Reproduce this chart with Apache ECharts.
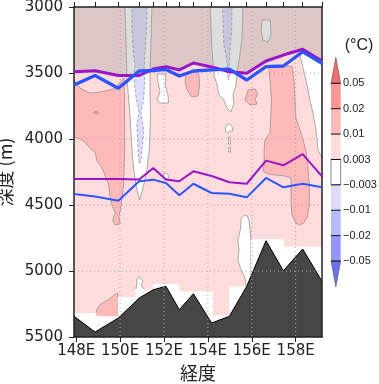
<!DOCTYPE html>
<html><head><meta charset="utf-8">
<script src="https://cdn.jsdelivr.net/npm/echarts@6/dist/echarts.min.js"></script>
<style>html,body{margin:0;padding:0;background:#fff}#c{width:379px;height:384px}</style>
</head><body><div id="c"></div>
<script>
// ---------- data ----------
const stationLon  = [147.9, 148.86, 149.92, 150.87, 151.51, 152.09, 152.70, 153.34, 154.17, 154.98, 155.77, 156.65, 157.44, 158.32, 159.2];
const topoDepth   = [5343, 5462, 5356, 5205, 5142, 5116, 5293, 5172, 5394, 5343, 5116, 4770, 4998, 4833, 5078];
const purpleUpper = [3490, 3483, 3519, 3519, 3470, 3452, 3477, 3424, 3455, 3490, 3502, 3409, 3364, 3320, 3409];
const blueUpper   = [3591, 3519, 3616, 3485, 3481, 3473, 3523, 3485, 3477, 3470, 3553, 3452, 3447, 3339, 3426];
const purpleLower = [4303, 4303, 4303, 4307, 4220, 4307, 4320, 4245, 4280, 4328, 4339, 4164, 4199, 4114, 4283];
const blueLower   = [4417, 4436, 4467, 4320, 4308, 4333, 4426, 4339, 4409, 4415, 4442, 4295, 4366, 4339, 4366];

const xTicks = [148, 150, 152, 154, 156, 158];
const gridLon = [150, 152, 154, 156, 158];
const gridDep = [3500, 4000, 4500, 5000];

const levels = [-0.05, -0.02, -0.01, -0.003, 0.003, 0.01, 0.02, 0.05];
const levelColors = ['#6e6ef0','#9696ff','#b9b9ff','#dcdcff','#ffffff','#ffdcdc','#ffb9b9','#ff9696','#f06e6e'];

// no-data cells (below these depths, per longitude band)
const maskLon0 = [147.9, 148.90, 149.89, 150.69, 151.50, 152.67, 154.19, 154.98, 155.96, 157.44];
const maskLon1 = [148.90, 149.89, 150.69, 151.50, 152.67, 154.19, 154.98, 155.96, 157.44, 159.2];
const maskTop  = [5318, 5343, 5197, 5136, 5099, 5154, 5336, 5116, 4760, 4816];

// contour regions of the temperature difference field (lon, depth, value)
const baseLon = [147.9, 159.2, 159.2, 147.9];
const baseDep = [3000, 3000, 5500, 5500];
const pinkLeftLon = [147.90,148.17,148.63,149.08,149.54,149.81,150.00,150.18,150.20,150.21,150.16,150.09,150.01,149.94,150.01,149.75,149.66,149.78,149.63,149.55,149.48,149.33,149.18,148.95,148.87,148.54,148.34,148.08,147.90];
const pinkLeftDep = [3553,3614,3652,3644,3629,3614,3568,3538,3705,4083,4348,4447,4545,4583,4644,4650,4612,4561,4498,4447,4346,4283,4220,4167,4106,4053,4015,3992,3992];
const dotLon = [148.79,148.90,149.01,148.90];
const dotDep = [3799,3788,3799,3811];
const whiteCenterLon = [150.22,151.45,151.41,151.36,151.38,151.33,151.23,151.08,150.89,150.72,150.62,150.54,150.46,150.31,150.27];
const whiteCenterDep = [3000,3000,3250,3523,3856,4083,4220,4348,4462,4348,4220,4083,3841,3530,3250];
const blueCenterLon = [150.54,151.23,151.20,151.13,151.09,151.12,151.07,150.95,151.02,151.08,151.00,150.95,150.89,150.83,150.80,150.76,150.86,150.75,150.68,150.63,150.68,150.59,150.54];
const blueCenterDep = [3000,3000,3174,3364,3477,3553,3705,3795,3871,3947,4083,4159,4189,4121,4008,3886,3795,3705,3629,3538,3439,3326,3174];
const whiteSpikeLon = [151.68,152.09,152.05,152.18,152.21,151.82,151.68,151.82,151.73];
const whiteSpikeDep = [3508,3508,3591,3667,3727,3727,3705,3644,3568];
const pinkBlob1Lon = [153.00,153.41,153.59,153.62,153.55,153.28,153.05,152.96];
const pinkBlob1Dep = [3508,3492,3508,3591,3674,3682,3629,3568];
const whiteCol2Lon = [154.10,155.60,155.55,155.42,155.33,155.28,155.14,155.19,155.05,154.87,154.73,154.51,154.42,154.28,154.19,154.14];
const whiteCol2Dep = [3000,3000,3250,3402,3492,3591,3667,3727,3795,3765,3705,3667,3591,3515,3326,3136];
const blueCol2Lon = [154.67,155.10,155.08,155.01,154.98,154.98,154.94,154.90,154.87,154.73,154.69];
const blueCol2Dep = [3000,3000,3174,3326,3402,3515,3553,3515,3402,3288,3136];
const whiteTopLon = [156.47,156.84,156.88,156.74,156.51,156.42];
const whiteTopDep = [3098,3098,3212,3265,3250,3174];
const whiteRightLon = [158.29,159.20,159.20,159.02,158.93,158.79,158.65,158.52,158.34,158.20];
const whiteRightDep = [3341,3417,4144,4083,3932,3803,3705,3591,3462,3371];
const pinkBlob2Lon = [155.83,156.15,156.28,156.15,156.24,155.92,155.69];
const pinkBlob2Dep = [3629,3621,3659,3697,3735,3742,3705];
const pinkRightLon = [156.78,157.83,157.92,157.97,158.01,158.32,158.47,158.55,158.62,158.62,158.52,158.34,158.16,158.01,157.83,157.79,157.79,157.51,157.06,156.74,156.51,156.56,156.56,156.60,156.83,156.90,156.83,156.78];
const pinkRightDep = [3447,3447,3553,3705,3841,3992,4091,4197,4348,4500,4598,4640,4650,4636,4576,4462,4295,4280,4273,4265,4242,4197,4083,4008,3955,3705,3553,3477];
const whiteBirdLon = [154.82,154.96,155.10,155.14,155.01,154.91,154.80];
const whiteBirdDep = [3901,3886,3901,3939,3939,3955,3939];
const whiteDotALon = [154.94,155.01,155.03,154.94];
const whiteDotADep = [3985,3985,4038,4038];
const whiteDotBLon = [154.95,155.03,155.03,154.95];
const whiteDotBDep = [4064,4064,4098,4098];
const whiteDotCLon = [152.00,152.18,152.21,152.05,151.98];
const whiteDotCDep = [4258,4265,4295,4308,4288];
const whiteLowLon = [155.60,155.78,155.87,155.92,155.96,155.96,155.74,155.69,155.51,155.37,155.42,155.37,155.46,155.51,155.51];
const whiteLowDep = [4583,4580,4614,4689,4765,5144,5114,5053,4992,4917,4841,4765,4705,4644,4606];
const whiteFlameLon = [150.85,151.04,150.95,151.09,151.09,150.72,150.72,150.77,150.75];
const whiteFlameDep = [5045,5076,5106,5136,5220,5220,5136,5091,5068];
const pinkBottomLon = [148.90,149.89,149.89,149.72,149.54,149.27,149.08,148.95,148.90];
const pinkBottomDep = [5371,5371,5167,5182,5212,5235,5258,5288,5318];

const regions = [
  [0.006, baseLon, baseDep],
  [0.015, pinkLeftLon, pinkLeftDep],
  [0.03, dotLon, dotDep],
  [0, whiteCenterLon, whiteCenterDep],
  [-0.006, blueCenterLon, blueCenterDep],
  [0, whiteSpikeLon, whiteSpikeDep],
  [0.015, pinkBlob1Lon, pinkBlob1Dep],
  [0, whiteCol2Lon, whiteCol2Dep],
  [-0.006, blueCol2Lon, blueCol2Dep],
  [0, whiteTopLon, whiteTopDep],
  [0, whiteRightLon, whiteRightDep],
  [0.015, pinkBlob2Lon, pinkBlob2Dep],
  [0.015, pinkRightLon, pinkRightDep],
  [0, whiteBirdLon, whiteBirdDep],
  [0, whiteDotALon, whiteDotADep],
  [0, whiteDotBLon, whiteDotBDep],
  [0, whiteDotCLon, whiteDotCDep],
  [0, whiteLowLon, whiteLowDep],
  [0, whiteFlameLon, whiteFlameDep],
  [0.015, pinkBottomLon, pinkBottomDep]
];

// ---------- chart ----------
function colorOf(v){ let i=0; while(i<levels.length && v>=levels[i]) i++; return levelColors[i]; }
const XMIN = stationLon[0], XMAX = stationLon[stationLon.length-1];
const YMIN = 3000, YMAX = 5500;
const axisColor = '#222';
const lineOf = arr => stationLon.map((lo,i)=>[lo, arr[i]]);

const chart = echarts.init(document.getElementById('c'));

// colorbar (legend) graphics
const cbLeft=331, cbW=9.7, cbTopY=83.3, cbStep=25.39, triH=26;
const cbBot = cbTopY + 7*cbStep;
const graphics = [];
for (let j=0;j<7;j++){
  const col = levelColors[7-j];
  graphics.push({type:'rect', z:100, shape:{x:cbLeft,y:cbTopY+j*cbStep,width:cbW,height:cbStep},
    style:{fill:col, stroke: col==='#ffffff' ? '#888' : null, lineWidth:1}});
}
graphics.push({type:'polygon', z:100, shape:{points:[[cbLeft,cbTopY],[cbLeft+cbW,cbTopY],[cbLeft+cbW/2,cbTopY-triH]]}, style:{fill:levelColors[8], stroke:'#555', lineWidth:0.6}});
graphics.push({type:'polygon', z:100, shape:{points:[[cbLeft,cbBot],[cbLeft+cbW,cbBot],[cbLeft+cbW/2,cbBot+triH]]}, style:{fill:levelColors[0], stroke:'#555', lineWidth:0.6}});
for (let j=0;j<8;j++){
  const y = cbTopY + j*cbStep;
  graphics.push({type:'line', z:101, shape:{x1:cbLeft,y1:y,x2:cbLeft+cbW,y2:y}, style:{stroke:'#111', lineWidth:1}});
  graphics.push({type:'text', z:101, style:{x:cbLeft+12, y:y, text:String(levels[7-j]).replace('-','\u2212'),
    font:'11px "Liberation Sans", Arial, sans-serif', fill:'#222', verticalAlign:'middle', align:'left'}});
}
graphics.push({type:'text', z:101, style:{x:359, y:46, text:'(\u00B0C)', font:'16px "Liberation Sans", Arial, sans-serif', fill:'#222', align:'center', verticalAlign:'middle'}});

const option = {
  animation:false,
  backgroundColor:'#fff',
  grid:{left:74, top:7, width:248, height:330, containLabel:false, outerBoundsMode:'none'},
  xAxis:[{
    type:'value', min:XMIN, max:XMAX, position:'bottom', z:5,
    axisLine:{show:true, lineStyle:{color:axisColor, width:1.5}},
    axisTick:{show:true, length:5, customValues:xTicks, lineStyle:{color:axisColor, width:1}},
    axisLabel:{customValues:xTicks, formatter:v=>v+'E', fontFamily:'DejaVu Sans', fontSize:15, color:axisColor, margin:7},
    splitLine:{show:false},
    name:'経度', nameLocation:'middle', nameGap:25,
    nameTextStyle:{fontFamily:'"Noto Sans CJK JP"', fontSize:18, color:axisColor}
  },{
    type:'value', min:XMIN, max:XMAX, position:'top', z:5,
    axisLine:{show:true, lineStyle:{color:axisColor, width:1.5}},
    axisTick:{show:true, length:5, customValues:stationLon, lineStyle:{color:axisColor, width:1}},
    axisLabel:{show:false}, splitLine:{show:false}
  }],
  yAxis:[{
    type:'value', min:YMIN, max:YMAX, interval:500, inverse:true, z:5,
    axisLine:{show:true, lineStyle:{color:axisColor, width:1.5}},
    axisTick:{show:true, length:5, lineStyle:{color:axisColor, width:1}},
    axisLabel:{formatter:v=>String(v), fontFamily:'DejaVu Sans', fontSize:15, color:axisColor, margin:11},
    splitLine:{show:false},
    name:'深度 (m)', nameLocation:'middle', nameGap:56, nameRotate:90,
    nameTextStyle:{fontFamily:'"Noto Sans CJK JP"', fontSize:18, color:axisColor}
  },{
    type:'value', min:YMIN, max:YMAX, inverse:true, position:'right', z:5,
    axisLine:{show:true, lineStyle:{color:axisColor, width:1.5}},
    axisTick:{show:false}, axisLabel:{show:false}, splitLine:{show:false}
  }],
  graphic: graphics,
  series:[
    { // contour-filled field
      type:'custom', z:1, clip:true, silent:true,
      encode:{x:0, y:1},
      data: regions.map((r,i)=>[r[1][0], r[2][0], i]),
      renderItem:function(params, api){
        const r = regions[api.value(2)];
        const pts = r[1].map((lo,k)=>api.coord([lo, r[2][k]]));
        const isBase = api.value(2)===0;
        return {type:'polygon', shape:{points:pts}, style:{
          fill:colorOf(r[0]), stroke: isBase ? null : '#8a8a8a', lineWidth:0.7,
          lineDash: r[0] < 0 ? [3,2] : null }};
      }
    },
    { // no-data cells
      type:'custom', z:1, clip:true, silent:true,
      encode:{x:0, y:1},
      data: maskLon0.map((lo,i)=>[lo, maskTop[i], maskLon1[i]]),
      renderItem:function(params, api){
        const p0 = api.coord([api.value(0), api.value(1)]);
        const p1 = api.coord([api.value(2), YMAX]);
        return {type:'rect', shape:{x:p0[0], y:p0[1], width:p1[0]-p0[0]+0.5, height:p1[1]-p0[1]}, style:{fill:'#fff'}};
      }
    },
    { // bottom topography
      type:'line', z:2, data:lineOf(topoDepth), symbol:'none', silent:true,
      lineStyle:{color:'#000', width:1},
      areaStyle:{color:'#464646', opacity:1, origin:'end'}
    },
    { // gray shading above upper purple line
      type:'line', z:3, data:lineOf(purpleUpper), symbol:'none', silent:true,
      lineStyle:{width:0, opacity:0},
      areaStyle:{color:'rgba(160,160,160,0.5)', origin:'start'}
    },
    { // dotted grid: longitudes
      type:'custom', z:4, silent:true, encode:{x:0, y:1},
      data: gridLon.map(v=>[v, YMIN]),
      renderItem:function(params, api){
        const a = api.coord([api.value(0), YMIN]), b = api.coord([api.value(0), YMAX]);
        return {type:'line', shape:{x1:a[0],y1:a[1],x2:b[0],y2:b[1]}, style:{stroke:'#a8a8a8', lineWidth:1, lineDash:[1,3]}};
      }
    },
    { // dotted grid: depths
      type:'custom', z:4, silent:true, encode:{x:0, y:1},
      data: gridDep.map(d=>[XMIN, d]),
      renderItem:function(params, api){
        const a = api.coord([XMIN, api.value(1)]), b = api.coord([XMAX, api.value(1)]);
        return {type:'line', shape:{x1:a[0],y1:a[1],x2:b[0],y2:b[1]}, style:{stroke:'#a8a8a8', lineWidth:1, lineDash:[1,3]}};
      }
    },
    {type:'line', z:6, data:lineOf(purpleUpper), symbol:'none', silent:true, lineStyle:{color:'#9b14c8', width:3}},
    {type:'line', z:6, data:lineOf(blueUpper), symbol:'none', silent:true, lineStyle:{color:'#2d55ff', width:3.3}},
    {type:'line', z:6, data:lineOf(purpleLower), symbol:'none', silent:true, lineStyle:{color:'#9b14c8', width:2}},
    {type:'line', z:6, data:lineOf(blueLower), symbol:'none', silent:true, lineStyle:{color:'#2d55ff', width:2}}
  ]
};
chart.setOption(option);
</script></body></html>
